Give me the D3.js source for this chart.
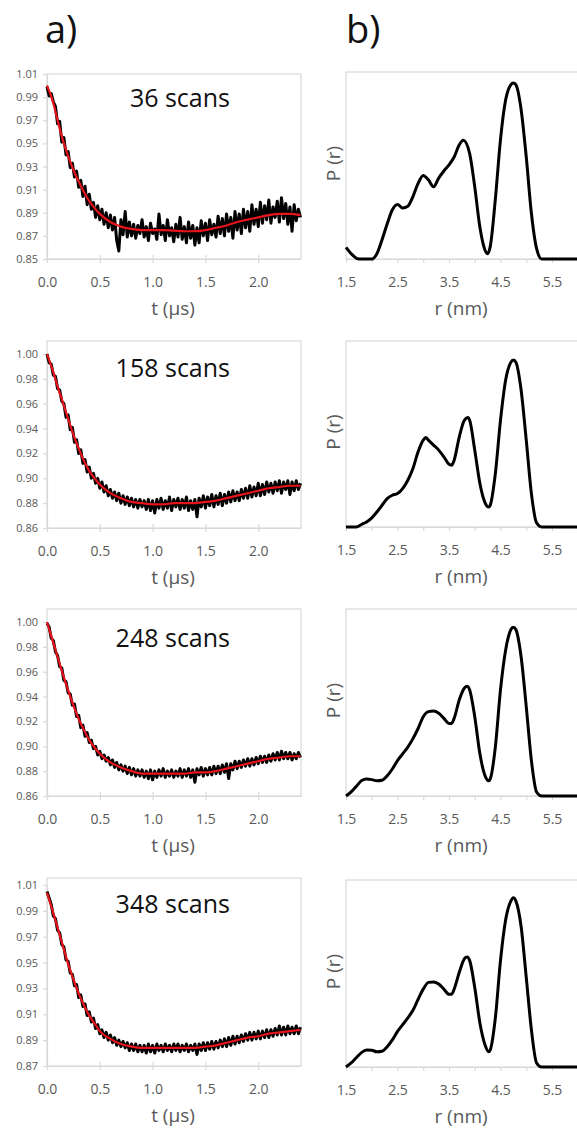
<!DOCTYPE html>
<html>
<head>
<meta charset="utf-8">
<script src="https://cdn.jsdelivr.net/npm/d3@7"></script>
<style>
  html, body { margin: 0; padding: 0; background: #fff; }
  text { font-family: "Open Sans", "Liberation Sans", sans-serif; }
</style>
</head>
<body>
<svg id="chart" width="577" height="1130"></svg>
<script>
// ---------------- data ----------------
const sampleTimes = [0,0.02,0.04,0.06,0.08,0.10,0.12,0.14,0.16,0.18,0.20,0.22,0.24,0.26,0.28,0.30,0.32,0.34,0.36,0.38,0.40,0.42,0.44,0.46,0.48,0.50,0.52,0.54,0.56,0.58,0.60,0.62,0.64,0.66,0.68,0.70,0.72,0.74,0.76,0.78,0.80,0.82,0.84,0.86,0.88,0.90,0.92,0.94,0.96,0.98,1.00,1.02,1.04,1.06,1.08,1.10,1.12,1.14,1.16,1.18,1.20,1.22,1.24,1.26,1.28,1.30,1.32,1.34,1.36,1.38,1.40,1.42,1.44,1.46,1.48,1.50,1.52,1.54,1.56,1.58,1.60,1.62,1.64,1.66,1.68,1.70,1.72,1.74,1.76,1.78,1.80,1.82,1.84,1.86,1.88,1.90,1.92,1.94,1.96,1.98,2.00,2.02,2.04,2.06,2.08,2.10,2.12,2.14,2.16,2.18,2.20,2.22,2.24,2.26,2.28,2.30,2.32,2.34,2.36,2.38,2.40];

const signal36 = [0.999,0.991,0.993,0.986,0.982,0.967,0.969,0.951,0.955,0.940,0.943,0.929,0.933,0.921,0.926,0.912,0.918,0.904,0.913,0.897,0.906,0.893,0.899,0.886,0.896,0.884,0.893,0.880,0.890,0.877,0.888,0.875,0.886,0.866,0.857,0.884,0.871,0.891,0.869,0.882,0.870,0.880,0.868,0.879,0.872,0.884,0.869,0.878,0.866,0.881,0.872,0.876,0.867,0.889,0.871,0.879,0.866,0.884,0.870,0.877,0.865,0.880,0.869,0.886,0.867,0.878,0.864,0.882,0.868,0.879,0.862,0.877,0.864,0.883,0.870,0.881,0.866,0.884,0.871,0.880,0.869,0.887,0.872,0.885,0.870,0.889,0.874,0.886,0.868,0.891,0.875,0.889,0.872,0.893,0.877,0.891,0.874,0.897,0.880,0.893,0.878,0.899,0.881,0.896,0.884,0.901,0.881,0.895,0.886,0.900,0.882,0.903,0.885,0.898,0.880,0.895,0.874,0.897,0.883,0.893,0.886];

const signal158 = [1.000,0.993,0.992,0.983,0.982,0.972,0.971,0.962,0.960,0.949,0.951,0.939,0.941,0.929,0.931,0.920,0.923,0.912,0.915,0.905,0.909,0.900,0.904,0.896,0.900,0.892,0.897,0.889,0.894,0.886,0.891,0.884,0.889,0.882,0.888,0.880,0.886,0.879,0.885,0.878,0.884,0.877,0.883,0.876,0.883,0.877,0.882,0.875,0.883,0.874,0.882,0.872,0.883,0.876,0.884,0.875,0.882,0.876,0.885,0.874,0.883,0.877,0.884,0.875,0.883,0.876,0.885,0.874,0.882,0.875,0.883,0.869,0.884,0.877,0.886,0.876,0.885,0.878,0.887,0.877,0.886,0.879,0.888,0.878,0.887,0.880,0.889,0.881,0.890,0.882,0.889,0.882,0.891,0.884,0.892,0.884,0.894,0.885,0.893,0.886,0.896,0.886,0.895,0.887,0.897,0.889,0.896,0.888,0.897,0.890,0.898,0.888,0.897,0.891,0.898,0.887,0.897,0.890,0.898,0.891,0.896];

const signal248 = [0.999,0.996,0.987,0.985,0.976,0.973,0.964,0.963,0.953,0.952,0.943,0.942,0.933,0.934,0.924,0.925,0.915,0.917,0.908,0.911,0.903,0.905,0.898,0.900,0.893,0.896,0.890,0.893,0.888,0.891,0.885,0.889,0.883,0.887,0.881,0.885,0.880,0.884,0.878,0.883,0.877,0.882,0.876,0.881,0.876,0.881,0.875,0.880,0.874,0.881,0.873,0.880,0.875,0.881,0.876,0.882,0.875,0.880,0.876,0.881,0.875,0.880,0.876,0.882,0.875,0.881,0.876,0.882,0.875,0.881,0.871,0.882,0.877,0.883,0.876,0.882,0.877,0.883,0.877,0.884,0.878,0.884,0.878,0.885,0.879,0.886,0.874,0.886,0.881,0.888,0.882,0.888,0.883,0.889,0.884,0.890,0.884,0.890,0.885,0.891,0.886,0.892,0.887,0.892,0.887,0.893,0.888,0.894,0.889,0.895,0.889,0.896,0.890,0.895,0.890,0.895,0.889,0.894,0.890,0.895,0.891];

const signal348 = [1.005,1.000,0.995,0.986,0.984,0.975,0.973,0.964,0.962,0.952,0.951,0.942,0.941,0.932,0.933,0.923,0.925,0.916,0.918,0.909,0.912,0.904,0.907,0.899,0.902,0.895,0.898,0.892,0.896,0.890,0.894,0.888,0.892,0.886,0.890,0.885,0.889,0.884,0.888,0.882,0.887,0.882,0.887,0.881,0.886,0.881,0.886,0.880,0.887,0.881,0.886,0.880,0.887,0.882,0.886,0.881,0.887,0.882,0.886,0.881,0.887,0.882,0.887,0.881,0.886,0.882,0.887,0.881,0.886,0.882,0.887,0.879,0.887,0.882,0.888,0.882,0.888,0.883,0.889,0.883,0.889,0.884,0.890,0.885,0.891,0.885,0.892,0.886,0.893,0.887,0.893,0.888,0.894,0.889,0.895,0.890,0.896,0.890,0.896,0.891,0.897,0.891,0.897,0.892,0.898,0.892,0.898,0.893,0.899,0.894,0.901,0.894,0.900,0.894,0.901,0.895,0.900,0.895,0.901,0.895,0.900];

const fitTimes = [0,0.05,0.10,0.15,0.20,0.25,0.30,0.35,0.40,0.45,0.50,0.60,0.70,0.80,0.90,1.00,1.10,1.20,1.30,1.40,1.50,1.60,1.70,1.80,1.90,2.00,2.10,2.20,2.30,2.40];
const fit36  = [1.000,0.988,0.970,0.953,0.939,0.927,0.917,0.908,0.900,0.894,0.889,0.882,0.878,0.876,0.875,0.875,0.875,0.8745,0.874,0.874,0.875,0.877,0.879,0.882,0.884,0.886,0.888,0.889,0.889,0.888];
const fit158 = [1.000,0.988,0.974,0.961,0.948,0.935,0.924,0.914,0.906,0.900,0.895,0.888,0.884,0.881,0.880,0.879,0.879,0.880,0.880,0.880,0.881,0.882,0.884,0.886,0.888,0.890,0.892,0.893,0.894,0.894];
const fit248 = [1.000,0.986,0.972,0.958,0.945,0.933,0.922,0.913,0.905,0.899,0.894,0.887,0.883,0.880,0.878,0.878,0.878,0.878,0.878,0.879,0.879,0.880,0.882,0.884,0.886,0.888,0.890,0.891,0.892,0.892];
const fit348 = [1.004,0.991,0.977,0.963,0.949,0.937,0.926,0.917,0.909,0.903,0.897,0.891,0.887,0.885,0.884,0.884,0.884,0.884,0.884,0.884,0.885,0.886,0.888,0.890,0.892,0.893,0.895,0.896,0.897,0.898];

const scanLabels = ["36 scans","158 scans","248 scans","348 scans"];
const yTicks36  = [0.85,0.87,0.89,0.91,0.93,0.95,0.97,0.99,1.01];
const yTicks158 = [0.86,0.88,0.90,0.92,0.94,0.96,0.98,1.00];
const yTicks248 = [0.86,0.88,0.90,0.92,0.94,0.96,0.98,1.00];
const yTicks348 = [0.87,0.89,0.91,0.93,0.95,0.97,0.99,1.01];
const tTicks = [0.0,0.5,1.0,1.5,2.0];
const rTicks = [1.5,2.0,2.5,3.0,3.5,4.0,4.5,5.0,5.5,6.0];
const rTickLabels = [1.5,2.5,3.5,4.5,5.5];

const distR1 = [1.5,1.6,1.75,2.0,2.1,2.2,2.3,2.4,2.5,2.6,2.7,2.8,2.9,3.0,3.1,3.2,3.3,3.4,3.5,3.6,3.7,3.78,3.9,4.0,4.1,4.2,4.25,4.3,4.4,4.5,4.6,4.7,4.75,4.8,4.9,5.0,5.1,5.2,5.3,6.0];
const distP1 = [0.066,0.03,0.0,0.0,0.03,0.11,0.20,0.28,0.31,0.29,0.30,0.355,0.43,0.475,0.45,0.41,0.46,0.50,0.535,0.58,0.65,0.675,0.60,0.41,0.18,0.05,0.03,0.07,0.34,0.68,0.905,0.99,1.0,0.99,0.85,0.58,0.26,0.06,0,0];
const distR2 = [1.5,1.7,1.8,1.9,2.0,2.1,2.2,2.3,2.4,2.5,2.6,2.7,2.8,2.9,3.0,3.05,3.1,3.2,3.3,3.4,3.5,3.55,3.6,3.7,3.8,3.87,3.9,4.0,4.1,4.2,4.27,4.3,4.4,4.5,4.6,4.7,4.75,4.8,4.9,5.0,5.1,5.2,5.3,6.0];
const distP2 = [0,0,0.015,0.03,0.055,0.09,0.13,0.17,0.19,0.20,0.23,0.28,0.35,0.45,0.52,0.535,0.52,0.49,0.46,0.42,0.375,0.37,0.40,0.54,0.64,0.655,0.64,0.46,0.26,0.145,0.12,0.13,0.32,0.64,0.88,0.985,1.0,0.985,0.82,0.52,0.20,0.025,0,0];
const distR3 = [1.5,1.6,1.7,1.8,1.9,2.0,2.1,2.2,2.3,2.4,2.5,2.6,2.7,2.8,2.9,3.0,3.1,3.2,3.3,3.4,3.5,3.55,3.6,3.7,3.8,3.85,3.9,4.0,4.1,4.2,4.27,4.3,4.4,4.5,4.6,4.7,4.75,4.8,4.9,5.0,5.1,5.2,5.3,6.0];
const distP3 = [0,0.024,0.057,0.09,0.10,0.097,0.09,0.093,0.12,0.16,0.21,0.25,0.29,0.34,0.40,0.47,0.50,0.503,0.49,0.46,0.43,0.43,0.46,0.57,0.64,0.65,0.63,0.47,0.25,0.12,0.09,0.10,0.29,0.63,0.865,0.985,1.0,0.985,0.825,0.53,0.21,0.024,0,0];
const distR4 = [1.5,1.6,1.7,1.8,1.9,2.0,2.1,2.2,2.3,2.4,2.5,2.6,2.7,2.8,2.9,3.0,3.1,3.2,3.3,3.4,3.5,3.55,3.6,3.7,3.8,3.85,3.9,4.0,4.1,4.2,4.27,4.3,4.4,4.5,4.6,4.7,4.75,4.8,4.9,5.0,5.1,5.2,5.3,6.0];
const distP4 = [0,0.024,0.055,0.085,0.10,0.099,0.09,0.093,0.12,0.16,0.21,0.25,0.29,0.335,0.40,0.46,0.50,0.503,0.49,0.46,0.43,0.43,0.46,0.56,0.64,0.65,0.63,0.47,0.26,0.13,0.09,0.10,0.29,0.63,0.87,0.98,1.0,0.98,0.83,0.53,0.22,0.024,0,0];

// ---------------- layout (positions only) ----------------
const layout = [
  {frameTop: 74,  tickTop: 74,  bottom: 259,  bTop: 72,  bBottom: 259,  pTop: 1.063, titleY: 107},
  {frameTop: 341, tickTop: 354, bottom: 528,  bTop: 341, bBottom: 527,  pTop: 1.113, titleY: 377},
  {frameTop: 609, tickTop: 622, bottom: 796,  bTop: 609, bBottom: 796,  pTop: 1.108, titleY: 647},
  {frameTop: 878, tickTop: 885, bottom: 1066, bTop: 880, bBottom: 1067, pTop: 1.105, titleY: 913}
];
const aLeft = 47, aRight = 301, bLeft = 346, bRight = 578;

const signals = [signal36, signal158, signal248, signal348];
const fits = [fit36, fit158, fit248, fit348];
const yTickSets = [yTicks36, yTicks158, yTicks248, yTicks348];
const distRs = [distR1, distR2, distR3, distR4];
const distPs = [distP1, distP2, distP3, distP4];

const GRID = "#d9d9d9", LABEL = "#595959";
const svg = d3.select("#chart");
svg.append("rect").attr("width", 577).attr("height", 1130).attr("fill", "#fff");

svg.append("text").attr("x", 45).attr("y", 43).attr("font-size", 38).attr("fill", "#111").text("a)");
svg.append("text").attr("x", 346).attr("y", 43).attr("font-size", 38).attr("fill", "#111").text("b)");

const xT = d3.scaleLinear().domain([0, 2.4]).range([aLeft, 300.5]);
const xR = d3.scaleLinear().domain([1.5, 6.0]).range([bLeft, bLeft + 4.5 * 51.5]);

layout.forEach((L, i) => {
  const yTk = yTickSets[i];
  const y = d3.scaleLinear().domain([yTk[0], yTk[yTk.length - 1]]).range([L.bottom, L.tickTop]);

  // ---- panel a ----
  const ga = svg.append("g");
  ga.append("rect").attr("x", aLeft).attr("y", L.frameTop)
    .attr("width", aRight - aLeft).attr("height", L.bottom - L.frameTop)
    .attr("fill", "none").attr("stroke", GRID).attr("stroke-width", 1.2);

  const yAx = ga.append("g").attr("transform", `translate(${aLeft},0)`)
    .call(d3.axisLeft(y).tickValues(yTk).tickFormat(d3.format(".2f")).tickSize(4).tickSizeOuter(0).tickPadding(5));
  yAx.select(".domain").attr("stroke", GRID).attr("stroke-width", 1.2);
  yAx.selectAll(".tick line").attr("stroke", GRID).attr("stroke-width", 1.2);
  yAx.selectAll(".tick text").attr("fill", LABEL).attr("font-size", 11)
    .attr("font-family", "Open Sans, sans-serif");

  const xAx = ga.append("g").attr("transform", `translate(0,${L.bottom})`)
    .call(d3.axisBottom(xT).tickValues(tTicks).tickFormat(d3.format(".1f")).tickSize(4).tickSizeOuter(0));
  xAx.select(".domain").attr("stroke", GRID).attr("stroke-width", 1.2);
  xAx.selectAll(".tick line").attr("y1", -4).attr("y2", 4).attr("stroke", GRID).attr("stroke-width", 1.2);
  xAx.selectAll(".tick text").attr("fill", LABEL).attr("font-size", 14)
    .attr("font-family", "Open Sans, sans-serif").attr("y", 28).attr("dy", 0);

  ga.append("text").attr("x", 173).attr("y", L.bottom + 56).attr("text-anchor", "middle")
    .attr("font-size", 19).attr("fill", LABEL).text("t (µs)");

  const sig = signals[i].map((v, k) => [sampleTimes[k], v]);
  ga.append("path").datum(sig)
    .attr("d", d3.line().x(d => xT(d[0])).y(d => y(d[1])))
    .attr("fill", "none").attr("stroke", "#000").attr("stroke-width", 3)
    .attr("stroke-linejoin", "round");

  const fit = fits[i].map((v, k) => [fitTimes[k], v]);
  ga.append("path").datum(fit)
    .attr("d", d3.line().curve(d3.curveMonotoneX).x(d => xT(d[0])).y(d => y(d[1])))
    .attr("fill", "none").attr("stroke", "#e8141c").attr("stroke-width", 2.2);

  ga.append("text").attr("x", 230).attr("y", L.titleY).attr("text-anchor", "end")
    .attr("font-size", 25).attr("fill", "#111").text(scanLabels[i]);

  // ---- panel b ----
  const yP = d3.scaleLinear().domain([0, L.pTop]).range([L.bBottom, L.bTop]);
  const gb = svg.append("g");
  gb.append("rect").attr("x", bLeft).attr("y", L.bTop)
    .attr("width", bRight - bLeft).attr("height", L.bBottom - L.bTop)
    .attr("fill", "none").attr("stroke", GRID).attr("stroke-width", 1.2);

  const rAx = gb.append("g").attr("transform", `translate(0,${L.bBottom})`)
    .call(d3.axisBottom(xR).tickValues(rTicks)
      .tickFormat(d => rTickLabels.includes(d) ? d3.format(".1f")(d) : "")
      .tickSize(4).tickSizeOuter(0));
  rAx.select(".domain").attr("stroke", GRID).attr("stroke-width", 1.2);
  rAx.selectAll(".tick line").attr("stroke", GRID).attr("stroke-width", 1.2);
  rAx.selectAll(".tick text").attr("fill", LABEL).attr("font-size", 14)
    .attr("font-family", "Open Sans, sans-serif").attr("y", 28).attr("dy", 0);

  gb.append("text").attr("x", 461).attr("y", L.bBottom + 56).attr("text-anchor", "middle")
    .attr("font-size", 19).attr("fill", LABEL).text("r (nm)");

  const pc = (L.bTop + L.bBottom) / 2 - 2;
  gb.append("text").attr("transform", `translate(340,${pc}) rotate(-90)`)
    .attr("text-anchor", "middle").attr("font-size", 19).attr("fill", LABEL).text("P (r)");

  const dist = distPs[i].map((v, k) => [distRs[i][k], v]);
  gb.append("path").datum(dist)
    .attr("d", d3.line().curve(d3.curveMonotoneX).x(d => xR(d[0])).y(d => yP(d[1])))
    .attr("fill", "none").attr("stroke", "#000").attr("stroke-width", 3)
    .attr("stroke-linejoin", "round");
});
</script>
</body>
</html>
